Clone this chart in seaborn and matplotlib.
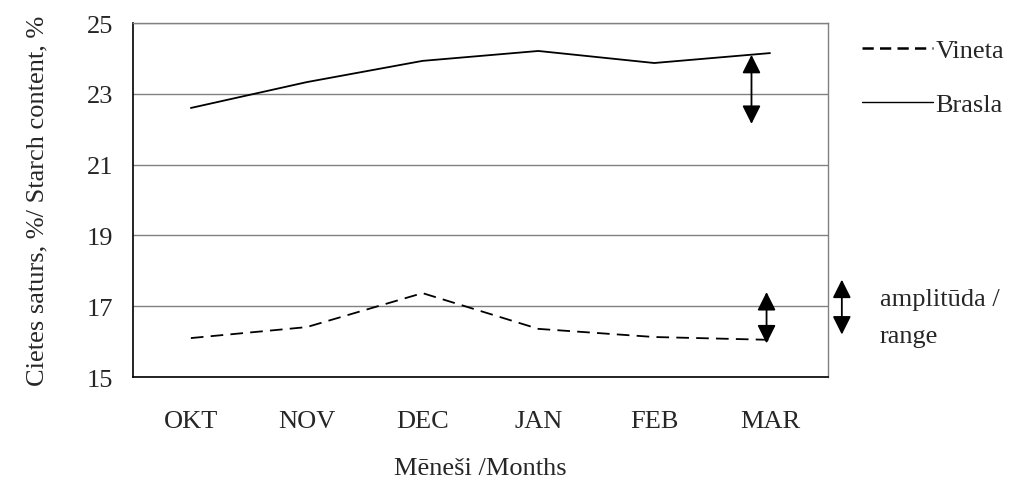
import pandas as pd
import numpy as np
import matplotlib
matplotlib.use('Agg')
import matplotlib.pyplot as plt
from matplotlib.lines import Line2D
import seaborn as sns

sns.set_style("white")
plt.rcParams['font.family'] = ['Liberation Serif', 'DejaVu Serif']

months = ['OKT', 'NOV', 'DEC', 'JAN', 'FEB', 'MAR']
vineta = [16.10, 16.41, 17.37, 16.36, 16.13, 16.05]
brasla = [22.60, 23.33, 23.93, 24.21, 23.87, 24.15]

df = pd.DataFrame({
    'month': months * 2,
    'value': vineta + brasla,
    'variety': ['Vineta'] * 6 + ['Brasla'] * 6,
})
df['x'] = df['month'].map({m: i for i, m in enumerate(months)})

fs = 19
fig = plt.figure(figsize=(10.18, 4.81), dpi=100)
ax = fig.add_axes([0.1306, 0.2141, 0.6827, 0.736])

sns.lineplot(data=df, x='x', y='value', hue='variety', style='variety',
             palette={'Vineta': 'black', 'Brasla': 'black'},
             dashes={'Vineta': (7, 4), 'Brasla': ''},
             linewidth=1.3, ax=ax, legend=False)

ax.set_xlim(-0.5, 5.5)
ax.set_ylim(15, 25)
ax.set_yticks([15, 17, 19, 21, 23, 25])
ax.set_xticks(range(6))
ax.set_xticklabels(months)
ax.set_xticks(np.arange(-0.5, 6, 1), minor=True)
ax.tick_params(axis='x', which='major', length=0, pad=24, labelsize=fs)
ax.tick_params(axis='x', which='minor', length=6, width=1, color='black', direction='out')
ax.tick_params(axis='y', length=6, width=1, color='black', direction='out', labelsize=fs, pad=8)
ax.grid(axis='y', color='#808080', linewidth=1)
ax.set_axisbelow(True)

for s in ['left', 'bottom']:
    ax.spines[s].set_color('black')
    ax.spines[s].set_linewidth(1.2)
for s in ['top', 'right']:
    ax.spines[s].set_color('#808080')
    ax.spines[s].set_linewidth(1)

ax.set_xlabel('Mēneši /Months', fontsize=fs, labelpad=18)
ax.set_ylabel('Cietes saturs, %/ Starch content, %', fontsize=fs, labelpad=28)

arrow = dict(arrowstyle='<|-|>', color='black', lw=1.3, mutation_scale=28,
             shrinkA=0, shrinkB=0)
ax.annotate('', xy=(4.84, 24.1), xytext=(4.84, 22.15), arrowprops=arrow)
ax.annotate('', xy=(4.97, 17.4), xytext=(4.97, 15.95), arrowprops=arrow)
ax.annotate('', xy=(5.62, 17.75), xytext=(5.62, 16.2), arrowprops=arrow,
            annotation_clip=False)

fig.text(880 / 1018, 1 - 300 / 481, 'amplitūda /', fontsize=fs, va='center')
fig.text(880 / 1018, 1 - 337 / 481, 'range', fontsize=fs, va='center')

handles = [Line2D([], [], color='black', lw=1.8, dashes=(4.5, 2.5)),
           Line2D([], [], color='black', lw=1.0)]
fig.legend(handles, ['Vineta', 'Brasla'], loc='upper left',
           bbox_to_anchor=(838 / 1018, 1 - 16 / 481), frameon=False,
           fontsize=fs, handlelength=2.7, handletextpad=0.1, labelspacing=1.15)

fig.savefig('out.png', dpi=100)
